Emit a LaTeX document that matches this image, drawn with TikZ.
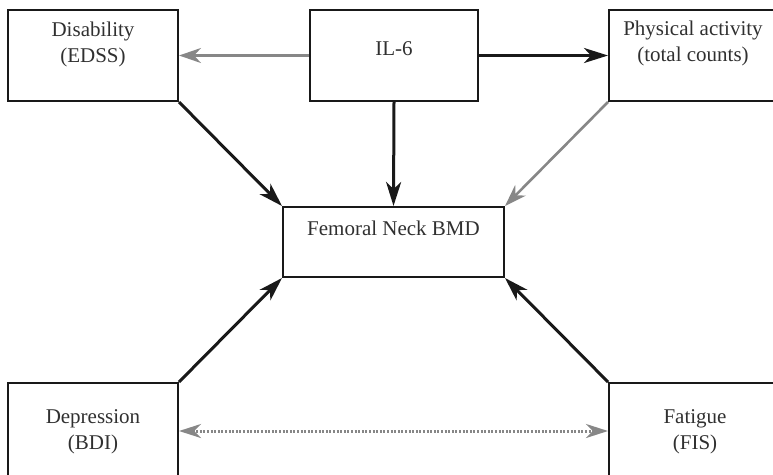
\documentclass[tikz,border=0pt]{standalone}
\usepackage{fontspec}
\setmainfont{Liberation Serif}
\usetikzlibrary{arrows.meta}
\definecolor{arrgray}{RGB}{135,135,135}
\definecolor{inkc}{RGB}{25,25,25}
\tikzset{
  boxnode/.style={draw=inkc, line width=2pt, rectangle, inner sep=0pt},
  lbl/.style={font=\fontsize{21}{26}\selectfont, align=center, anchor=north, inner sep=0pt, text=inkc!90},
  blackarrow/.style={draw=inkc, line width=3pt, -{Stealth[length=24pt,width=15pt,inset=7pt]}},
  grayarrow/.style={draw=arrgray, line width=2.6pt, -{Stealth[length=22pt,width=15pt,inset=7pt]}},
  dotarrow/.style={draw=arrgray, line width=3pt, dash pattern=on 2pt off 1.6pt,
    {Stealth[length=22pt,width=14pt,inset=7pt]}-{Stealth[length=22pt,width=14pt,inset=7pt]}}
}
\begin{document}
\begin{tikzpicture}[x=1pt,y=-1pt]
\useasboundingbox (0,0) rectangle (773,474);
\clip (0,0) rectangle (773,474);
% boxes
\node[boxnode, minimum width=170pt, minimum height=91pt] (dis) at (93,55.5) {};
\node[boxnode, minimum width=168pt, minimum height=91pt] (il6) at (394,55.5) {};
\node[boxnode, minimum width=181pt, minimum height=91pt] (phy) at (699.5,55.5) {};
\node[boxnode, minimum width=221pt, minimum height=70pt] (fem) at (393.5,242) {};
\node[boxnode, minimum width=170pt, minimum height=107pt] (dep) at (93,436.5) {};
\node[boxnode, minimum width=181pt, minimum height=107pt] (fat) at (699.5,436.5) {};
% labels
\node[lbl] (tdis) at (93,22) {Disability\\(EDSS)};
\node[lbl] (til6) at (394,41) {IL-6};
\node[lbl] (tphy) at (693,21) {Physical activity\\(total counts)};
\node[lbl] (tfem) at (393.5,221) {Femoral Neck BMD};
\node[lbl] (tdep) at (93,409) {Depression\\(BDI)};
\node[lbl] (tfat) at (695,409) {Fatigue\\(FIS)};
% connectors
\draw[grayarrow] (il6.west) -- (dis.east);
\draw[blackarrow] (il6.east) -- (phy.west);
\draw[blackarrow] (il6.south) -- (fem.north);
\draw[blackarrow] (dis.south east) -- (fem.north west);
\draw[grayarrow] (phy.south west) -- (fem.north east);
\draw[blackarrow] (dep.north east) -- (fem.south west);
\draw[blackarrow] (fat.north west) -- (fem.south east);
\draw[dotarrow] ([yshift=5.5pt]dep.east) -- ([yshift=5.5pt]fat.west);
\end{tikzpicture}
\end{document}
